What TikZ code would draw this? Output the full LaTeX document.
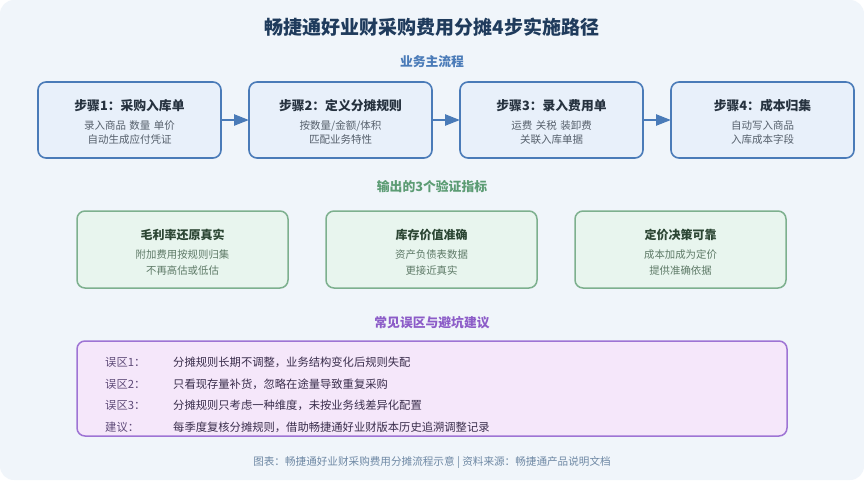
\documentclass[tikz,border=0pt]{standalone}
\usepackage{fontspec}
\setmainfont{Noto Sans CJK SC}
\usetikzlibrary{arrows.meta, positioning}

\definecolor{cardbg}{HTML}{F0F5FA}
\definecolor{titlec}{HTML}{1F3B5C}
\definecolor{flowc}{HTML}{4A7BB8}
\definecolor{flowfill}{HTML}{E8F0FA}
\definecolor{flowtext}{HTML}{26323F}
\definecolor{flowsub}{HTML}{56606C}
\definecolor{checkc}{HTML}{5C9C74}
\definecolor{checkline}{HTML}{7DB08E}
\definecolor{checkfill}{HTML}{E8F5EE}
\definecolor{checktext}{HTML}{2C4634}
\definecolor{checksub}{HTML}{5E7A67}
\definecolor{tipc}{HTML}{8C5CC8}
\definecolor{tipline}{HTML}{9E74D4}
\definecolor{tipfill}{HTML}{F5E7FA}
\definecolor{tiplabel}{HTML}{5E4A78}
\definecolor{tiptext}{HTML}{3A2E4C}
\definecolor{notec}{HTML}{6E88A4}

\begin{document}
\begin{tikzpicture}[x=1pt, y=-1pt, node distance=28pt]
    \tikzset{
        > = {Triangle[length=15pt, width=11pt]},
        stepbox/.style = {rectangle, rounded corners=8pt, draw=flowc, fill=flowfill, line width=1.6pt,
                          text width=175pt, align=center, minimum width=183pt, minimum height=76pt,
                          outer sep=0pt, inner sep=0pt, text=flowsub, font=\fontsize{10.5}{14}\selectfont},
        checkbox/.style = {rectangle, rounded corners=8pt, draw=checkline, fill=checkfill, line width=1.5pt,
                           text width=200pt, align=center, minimum width=211pt, minimum height=77pt,
                           outer sep=0pt, inner sep=0pt, text=checksub, font=\fontsize{10.4}{16}\selectfont},
        tipbox/.style = {rectangle, rounded corners=8pt, draw=tipline, fill=tipfill, line width=1.5pt,
                         minimum width=710pt, minimum height=95pt, outer sep=0pt},
        section/.style = {font=\fontsize{12.8}{15}\selectfont\bfseries},
        tiplab/.style = {anchor=west, inner sep=0pt, text=tiplabel, font=\fontsize{11.3}{13}\selectfont},
        tiptxt/.style = {anchor=west, inner sep=0pt, text=tiptext, font=\fontsize{11.3}{13}\selectfont},
        line/.style = {->, line width=2.4pt, draw=flowc}
    }
    \useasboundingbox (0,0) rectangle (864,480);
    \fill[white] (0,0) rectangle (864,480);
    \fill[cardbg] (0,0) [rounded corners=14pt] rectangle (864,480);

    % 标题
    \node[font=\fontsize{19}{22}\selectfont\bfseries, text=titlec] (title) at (432,27) {畅捷通好业财采购费用分摊4步实施路径};

    % 业务主流程
    \node[section, text=flowc] (flow) at (432,62) {业务主流程};
    \node[stepbox] (s1) at (129.5,120) {\rule{0pt}{14.3pt}{\fontsize{12.8}{15}\selectfont\bfseries\color{flowtext}步骤1：采购入库单}\\[5pt]录入商品 数量 单价\\自动生成应付凭证};
    \node[stepbox, right=of s1] (s2) {\rule{0pt}{14.3pt}{\fontsize{12.8}{15}\selectfont\bfseries\color{flowtext}步骤2：定义分摊规则}\\[5pt]按数量/金额/体积\\匹配业务特性};
    \node[stepbox, right=of s2] (s3) {\rule{0pt}{14.3pt}{\fontsize{12.8}{15}\selectfont\bfseries\color{flowtext}步骤3：录入费用单}\\[5pt]运费 关税 装卸费\\关联入库单据};
    \node[stepbox, right=of s3] (s4) {\rule{0pt}{14.3pt}{\fontsize{12.8}{15}\selectfont\bfseries\color{flowtext}步骤4：成本归集}\\[5pt]自动写入商品\\入库成本字段};

    % 流程箭头
    \draw [line] (s1) -- (s2);
    \draw [line] (s2) -- (s3);
    \draw [line] (s3) -- (s4);

    % 验证指标
    \node[section, text=checkc] (check) at (432,187) {输出的3个验证指标};
    \node[checkbox] (c1) at (182.5,249.5) {\rule{0pt}{16.6pt}{\fontsize{12}{14}\selectfont\bfseries\color{checktext}毛利率还原真实}\\[3pt]附加费用按规则归集\\不再高估或低估};
    \node[checkbox, right=38pt of c1] (c2) {\rule{0pt}{16.6pt}{\fontsize{12}{14}\selectfont\bfseries\color{checktext}库存价值准确}\\[3pt]资产负债表数据\\更接近真实};
    \node[checkbox, right=38pt of c2] (c3) {\rule{0pt}{16.6pt}{\fontsize{12}{14}\selectfont\bfseries\color{checktext}定价决策可靠}\\[3pt]成本加成为定价\\提供准确依据};

    % 误区与建议
    \node[section, text=tipc] (tips) at (432,323) {常见误区与避坑建议};
    \node[tipbox] (tipsbox) at (432,388.5) {};
    \node[tiplab] (m1l) at (105,362) {误区1：};
    \node[tiptxt] (m1t) at (173,362) {分摊规则长期不调整，业务结构变化后规则失配};
    \node[tiplab] (m2l) at (105,384) {误区2：};
    \node[tiptxt] (m2t) at (173,384) {只看现存量补货，忽略在途量导致重复采购};
    \node[tiplab] (m3l) at (105,405.5) {误区3：};
    \node[tiptxt] (m3t) at (173,405.5) {分摊规则只考虑一种维度，未按业务线差异化配置};
    \node[tiplab] (advl) at (105,427) {建议：};
    \node[tiptxt] (advt) at (173,427) {每季度复核分摊规则，借助畅捷通好业财版本历史追溯调整记录};

    % 脚注
    \node[font=\fontsize{10.6}{12}\selectfont, text=notec] (note) at (432,462) {图表：畅捷通好业财采购费用分摊流程示意 | 资料来源：畅捷通产品说明文档};
\end{tikzpicture}
\end{document}
